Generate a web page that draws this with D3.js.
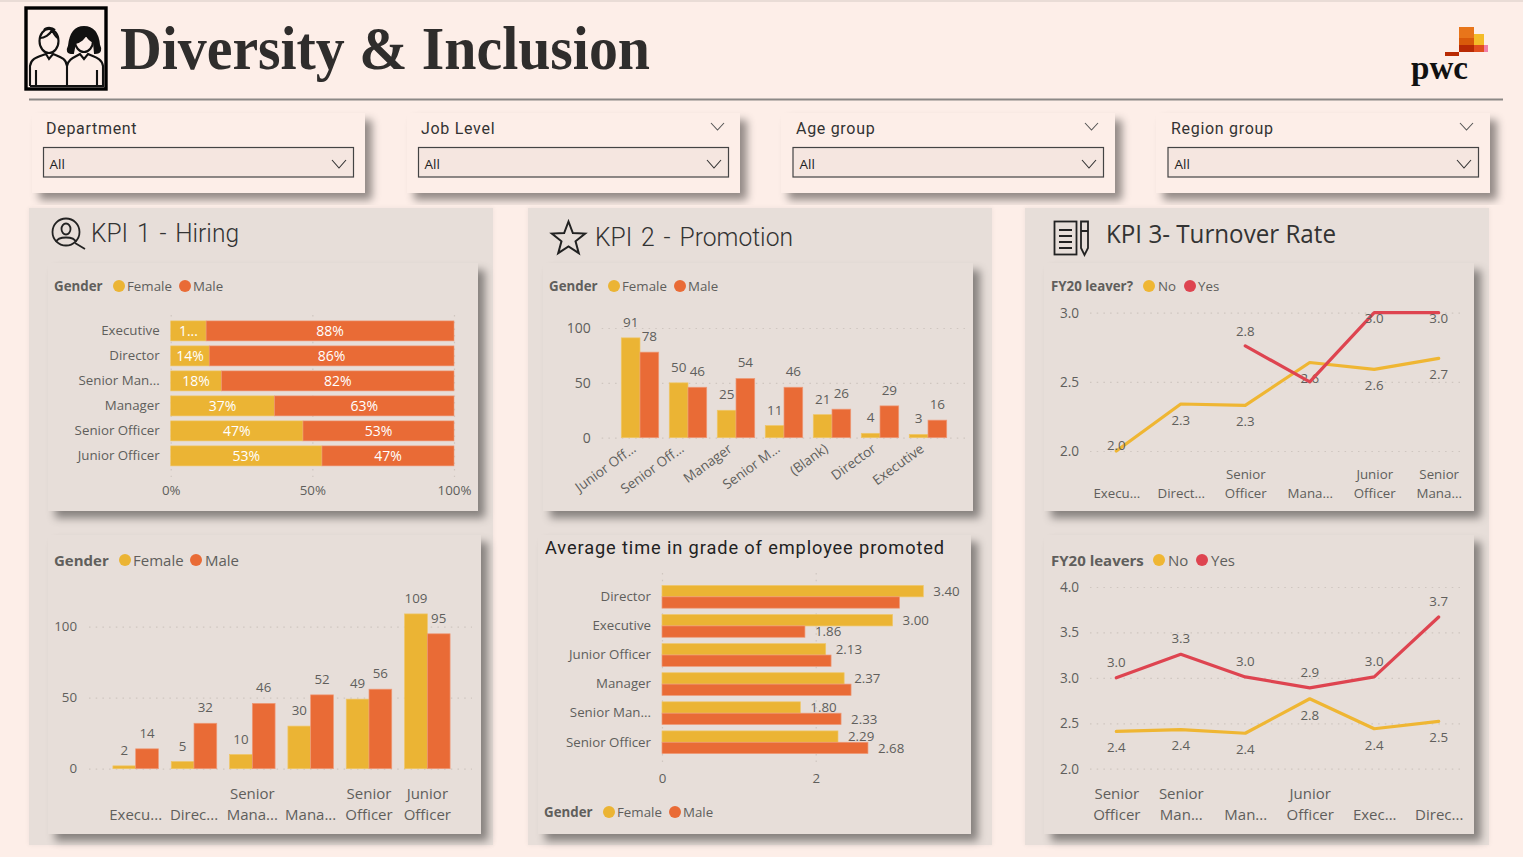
<!DOCTYPE html>
<html><head><meta charset="utf-8">
<script src="https://cdn.jsdelivr.net/npm/d3@7"></script>
<style>
html,body{margin:0;padding:0;background:#FDEEE8;overflow:hidden}
svg{display:block}
text{font-family:"Open Sans","Noto Sans",sans-serif;fill:#605E5C}
.din{font-family:Roboto,sans-serif}
</style></head><body>
<svg id="c" width="1523" height="857"></svg>
<script>
// ---------- data ----------
const slicerNames = ["Department","Job Level","Age group","Region group"];
const slicerValue = "All";

const genderSeries = ["Female","Male"];
const leaverSeries = ["No","Yes"];

const shareLevels = ["Executive","Director","Senior Man...","Manager","Senior Officer","Junior Officer"];
const shareFemale = [12.5,13.6,17.9,36.6,46.7,53.4];
const shareMale   = [87.5,86.4,82.1,63.4,53.3,46.6];
const shareTicks  = [0,50,100];

const hireLevels = ["Execu...","Direc...","Senior\nMana...","Mana...","Senior\nOfficer","Junior\nOfficer"];
const hireFemale = [2,5,10,30,49,109];
const hireMale   = [14,32,46,52,56,95];
const hireTicks  = [0,50,100];

const promoLevels = ["Junior Off...","Senior Off...","Manager","Senior M...","(Blank)","Director","Executive"];
const promoFemale = [91,50,25,11,21,4,3];
const promoMale   = [78,46,54,46,26,29,16];
const promoTicks  = [0,50,100];

const gradeLevels = ["Director","Executive","Junior Officer","Manager","Senior Man...","Senior Officer"];
const gradeFemale = [3.40,3.00,2.13,2.37,1.80,2.29];
const gradeMale   = [3.09,1.86,2.20,2.46,2.33,2.68];
const gradeFemaleLabels = ["3.40","3.00","2.13","2.37","1.80","2.29"];
const gradeMaleLabels   = ["","1.86","","","2.33","2.68"];
const gradeTicks  = [0,2];

const tenureLevels = ["Execu...","Direct...","Senior\nOfficer","Mana...","Junior\nOfficer","Senior\nMana..."];
const tenureNo  = [2.00,2.34,2.33,2.64,2.59,2.67];
const tenureYes = [null,null,2.76,2.50,3.00,3.00];
const tenureYesLabels = [null,null,"2.8",null,"3.0","3.0"];
const tenureTicks = [2,2.5,3];

const leaverLevels = ["Senior\nOfficer","Senior\nMan...","Man...","Junior\nOfficer","Exec...","Direc..."];
const leaverNo  = [2.41,2.43,2.39,2.77,2.44,2.52];
const leaverYes = [3.00,3.26,3.01,2.89,3.01,3.67];
const leaverTicks = [2,2.5,3,3.5,4];

// ---------- style ----------
const FEMALE="#EBB434", MALE="#E96B36", NO="#EFB633", YES="#DE4450";
const INK="#605E5C", GRID="#cfc6c0", PANEL="#E7DED9", PAGE="#FDEEE8";
const svg=d3.select("#c");
const defs=svg.append("defs");
const f=defs.append("filter").attr("id","sh").attr("x","-10%").attr("y","-10%").attr("width","125%").attr("height","125%");
f.append("feDropShadow").attr("dx",7).attr("dy",7).attr("stdDeviation",4).attr("flood-color","#000").attr("flood-opacity",.42);
const f2=defs.append("filter").attr("id","sh2").attr("x","-10%").attr("y","-10%").attr("width","125%").attr("height","125%");
f2.append("feDropShadow").attr("dx",0).attr("dy",0).attr("stdDeviation",2).attr("flood-color","#000").attr("flood-opacity",.06);

svg.append("rect").attr("width",1523).attr("height",857).attr("fill",PAGE);
svg.append("rect").attr("x",0).attr("y",0).attr("width",1523).attr("height",2).attr("fill","#e9dcd6");

function box(x0,y0,x1,y1,fill,filter){
  const r=svg.append("rect").attr("x",x0).attr("y",y0).attr("width",x1-x0).attr("height",y1-y0).attr("fill",fill);
  if(filter) r.attr("filter",`url(#${filter})`);
  return r;
}
function txt(x,y,s,size,opt={}){
  const t=svg.append("text").attr("x",x).attr("y",y).attr("font-size",size).text(s);
  if(opt.cls) t.attr("class",opt.cls);
  if(opt.fill) t.style("fill",opt.fill);
  if(opt.weight) t.attr("font-weight",opt.weight);
  if(opt.anchor) t.attr("text-anchor",opt.anchor);
  if(opt.ls) t.attr("letter-spacing",opt.ls);
  if(opt.ws) t.attr("word-spacing",opt.ws);
  if(opt.family) t.style("font-family",opt.family);
  if(opt.style) t.attr("font-style",opt.style);
  if(opt.len) t.attr("textLength",opt.len).attr("lengthAdjust","spacingAndGlyphs");
  return t;
}
function chevron(x,y,w,h,color){
  svg.append("path").attr("d",d3.line()([[x,y],[x+w/2,y+h],[x+w,y]])).attr("fill","none").attr("stroke",color).attr("stroke-width",1.1);
}
function legend(tx,y,title,size,items){
  txt(tx,y,title,size,{weight:700});
  items.forEach(it=>{
    svg.append("circle").attr("cx",it.cx).attr("cy",y-(size>14?2:1)-4).attr("r",6).attr("fill",it.color);
    txt(it.tx,y,it.label,size);
  });
}
function styleAxis(g,size){
  g.select(".domain").remove();
  g.selectAll("text").attr("font-size",size).style("fill",INK).style("font-family",'"Open Sans","Noto Sans",sans-serif');
  g.selectAll(".tick line").attr("stroke",GRID).attr("stroke-width",1.2).attr("stroke-dasharray","1.5 5.2");
}
function multiline(g,baseline,lh){
  g.selectAll(".tick text").each(function(d){
    const parts=String(d).split("\n"), t=d3.select(this);
    t.text(null).attr("dy",null).attr("y",null);
    parts.forEach((p,i)=>t.append("tspan").attr("x",0).attr("y",baseline-(parts.length-1-i)*lh).text(p));
  });
}

// ---------- header ----------
txt(120,69,"Diversity & Inclusion",61,{weight:700,fill:"#2f2d2c",family:'"Liberation Serif",serif',len:530});
svg.append("line").attr("x1",29).attr("x2",1503).attr("y1",99.5).attr("y2",99.5).attr("stroke","#8c8886").attr("stroke-width",2.2);

// people icon
svg.append("rect").attr("x",26).attr("y",8).attr("width",80).attr("height",81).attr("fill","none").attr("stroke","#000").attr("stroke-width",3.4);
const icon=svg.append("g").attr("fill","none").attr("stroke","#111").attr("stroke-width",2.1);
icon.append("ellipse").attr("cx",49).attr("cy",41).attr("rx",9.5).attr("ry",12);
icon.append("path").attr("d","M40 38 C44 38 50 35 52 30 C54 34 56 37 58 38 M44 30 C46 27 52 27 55 30");
icon.append("path").attr("d","M30 86 L30 66 C31 58 38 57 46 54 L49 59 L53 54 C60 57 66 58 67 66 L67 86 M36 86 L36 70 M30 86 L104 86");
icon.append("ellipse").attr("cx",84).attr("cy",41).attr("rx",9).attr("ry",11);
icon.append("path").attr("fill","#111").attr("d","M84 27 C74 27 70 36 69 46 C67 50 67 53 73 53 L75 43 C80 42 85 38 86 34 C88 38 91 41 94 42 L95 53 C101 53 101 49 99 45 C98 35 94 27 84 27Z");
icon.append("path").attr("d","M67 66 C68 59 75 57 80 54 L84 59 L88 54 C94 57 102 58 103 66 L103 86 M97 86 L97 70");

// pwc logo
[[1459,27,15,18,"#E8751A"],[1474,34,10,11,"#F4BC28"],[1459,45,15,7,"#B82A04"],[1474,45,10,7,"#E14E1E"],[1484,45,4,7,"#F07FA8"],[1445,52,14,4,"#B82A04"],[1459,38,15,7,"#D95A0A"]]
 .forEach(d=>box(d[0],d[1],d[0]+d[2],d[1]+d[3],d[4]));
txt(1411,79,"pwc",34,{weight:700,fill:"#111",family:'"Liberation Serif",serif',len:57});

// slicers
const slicerX=[32,407,781,1156], slicerW=[333,333,334,334], slicerText=[46,421,796,1171];
slicerNames.forEach((n,i)=>{
  const x=slicerX[i],w=slicerW[i];
  box(x,113,x+w,193,PAGE,"sh");
  txt(slicerText[i],134,n,16,{cls:"din",fill:"#333",ls:.7});
  box(x+11.5+(i>1?.5:0),147.5,x+w-11.5,177,"#F5E6E0").attr("stroke","#444").attr("stroke-width",1.2);
  txt(slicerText[i]+3.5,169,slicerValue,13.5,{fill:"#222"});
  chevron(x+w-33,160,14,8,"#333");
  if(i>0) chevron(x+304,123,13,7,"#555");
});

// KPI columns
[[29,493],[528,992],[1025,1489]].forEach(p=>box(p[0],208,p[1],845,PANEL,"sh2"));
txt(91,242,"KPI 1 - Hiring",26,{cls:"din",fill:"#333",weight:300,ws:3,len:148});
txt(595,246,"KPI 2 - Promotion",26,{cls:"din",fill:"#333",weight:300,ws:3,len:198});
txt(1106,243,"KPI 3- Turnover Rate",25,{fill:"#333",len:230});

// KPI icons
const ic=svg.append("g").attr("fill","none").attr("stroke","#222").attr("stroke-width",1.8);
ic.append("circle").attr("cx",66).attr("cy",232).attr("r",13.5);
ic.append("ellipse").attr("cx",66).attr("cy",229).attr("rx",4.5).attr("ry",5.5);
ic.append("path").attr("d","M56 242 C58 236 74 236 76 242 M75 243 L85 249");
ic.append("path").attr("stroke-width",2).attr("d",()=>{
  const pts=d3.range(10).map(i=>{const a=-Math.PI/2+i*Math.PI/5,r=i%2?7.4:17.5;return [568.5+r*Math.cos(a),239+r*Math.sin(a)];});
  return d3.line()(pts)+"Z";
});
ic.append("rect").attr("x",1054.5).attr("y",221.5).attr("width",22).attr("height",33);
ic.append("path").attr("d","M1059 230H1072 M1059 236H1072 M1059 242H1072 M1059 248H1072 M1081 221.5H1088V248L1084.5 255L1081 248Z M1081 231H1088");

// cards
const cards={A:[48,263,478,511],B:[48,535,481,834],C:[543,263,973,511],D:[538,535,971,834],E:[1044,263,1474,511],F:[1044,535,1474,834]};
Object.values(cards).forEach(c=>box(c[0],c[1],c[2],c[3],PANEL,"sh"));

const gender=(pos)=>genderSeries.map((s,i)=>({label:s,color:i?MALE:FEMALE,cx:pos[i*2],tx:pos[i*2+1]}));
const leave=(pos)=>leaverSeries.map((s,i)=>({label:s,color:i?YES:NO,cx:pos[i*2],tx:pos[i*2+1]}));

// ---------- KPI1 stacked share ----------
(function(){
  legend(54,291,"Gender",13.3,gender([119,127,185,193]));
  const x=d3.scaleLinear().domain([0,100]).range([170.7,454]);
  const y=d3.scaleBand().domain(shareLevels).range([318.4,468.4]).paddingInner(.2).paddingOuter(.1);
  const g=svg.append("g");
  const ax=g.append("g").attr("transform","translate(0,315)").call(d3.axisBottom(x).tickValues(shareTicks).tickFormat(d=>d+"%").tickSize(162).tickPadding(9));
  styleAxis(ax,13.3);
  const ay=g.append("g").attr("transform","translate(170.7,0)").call(d3.axisLeft(y).tickSize(0).tickPadding(11));
  styleAxis(ay,13.3);
  const rows=shareLevels.map((l,i)=>({l,f:shareFemale[i],m:shareMale[i]}));
  g.selectAll(".f").data(rows).join("rect").attr("x",x(0)).attr("y",d=>y(d.l)).attr("height",y.bandwidth()).attr("width",d=>x(d.f)-x(0)).attr("fill",FEMALE).attr("stroke","#EFC667").attr("stroke-width",.6);
  g.selectAll(".m").data(rows).join("rect").attr("x",d=>x(d.f)).attr("y",d=>y(d.l)).attr("height",y.bandwidth()).attr("width",d=>x(d.f+d.m)-x(d.f)).attr("fill",MALE).attr("stroke","#EE9A78").attr("stroke-width",.6);
  const lab=(cx,v,d,w)=>g.append("text").attr("x",cx).attr("y",y(d.l)+y.bandwidth()/2).attr("dy",".36em").attr("text-anchor","middle").attr("font-size",14).style("fill","#fff").text(w<38?String(Math.round(v))[0]+"...":Math.round(v)+"%");
  rows.forEach(d=>{
    lab((x(0)+x(d.f))/2,d.f,d,x(d.f)-x(0));
    lab((x(d.f)+x(d.f+d.m))/2,d.m,d,x(d.f+d.m)-x(d.f));
  });
})();

// ---------- grouped columns helper ----------
function columns(o){
  const y=d3.scaleLinear().domain([0,100]).range([o.y0,o.y100]);
  const x=d3.scaleBand().domain(o.levels).range(o.band).paddingInner(o.pad).paddingOuter(o.pad/2);
  const x1=d3.scaleBand().domain(genderSeries).range([0,x.bandwidth()]);
  const g=svg.append("g");
  const ay=g.append("g").attr("transform",`translate(${o.gx0},0)`).call(d3.axisLeft(y).tickValues(o.ticks).tickSize(-(o.gx1-o.gx0)).tickPadding(o.tp));
  styleAxis(ay,o.yfs);
  const ax=g.append("g").attr("transform",`translate(0,${o.y0})`).call(d3.axisBottom(x).tickSize(0).tickPadding(5));
  styleAxis(ax,o.fs);
  if(o.rotate){
    ax.selectAll(".tick text").attr("text-anchor","end").attr("dy",0).attr("y",0)
      .attr("transform",`translate(${o.rx},${o.ry}) rotate(${o.rotate})`);
  } else multiline(ax,o.base-o.y0,o.lh);
  genderSeries.forEach((s,si)=>{
    const vals=si?o.male:o.female;
    const rows=o.levels.map((l,i)=>({l,v:vals[i]}));
    g.selectAll(".s"+si).data(rows).join("rect").attr("x",d=>x(d.l)+x1(s)).attr("width",x1.bandwidth())
      .attr("y",d=>y(d.v)).attr("height",d=>y(0)-y(d.v)).attr("fill",si?MALE:FEMALE).attr("stroke",si?"#EE9A78":"#EFC667").attr("stroke-width",.7);
    g.selectAll(".l"+si).data(rows).join("text").attr("x",d=>x(d.l)+x1(s)+x1.bandwidth()/2).attr("y",d=>y(d.v)-o.lg)
      .attr("text-anchor","middle").attr("font-size",o.lfs).style("fill",INK).text(d=>d.v);
  });
}
columns({levels:hireLevels,female:hireFemale,male:hireMale,ticks:hireTicks,y0:768.7,y100:626.7,band:[106.5,456.5],pad:.22,gx0:89,gx1:472,tp:12,fs:15,yfs:13.3,lfs:13.3,lg:11,base:820,lh:21});
legend(54,566,"Gender",15,gender([125,133,196,205]));

columns({levels:promoLevels,female:promoFemale,male:promoMale,ticks:promoTicks,y0:437.7,y100:328,band:[616,952],pad:.22,gx0:601.7,gx1:967,tp:11,fs:13.5,yfs:14,lfs:13.5,lg:11,rotate:-36,rx:-3,ry:13});
legend(549,291,"Gender",13.3,gender([614,622,680,688]));

// ---------- grade horizontal ----------
(function(){
  txt(545,554,"Average time in grade of employee promoted",18.5,{cls:"din",fill:"#222",ls:.9,len:400});
  legend(544,817,"Gender",13.3,gender([609,617,675,683]));
  const x=d3.scaleLinear().domain([0,2]).range([662,815.7]);
  const y=d3.scaleBand().domain(gradeLevels).range([582.3,756.8]).paddingInner(.22).paddingOuter(.11);
  const y1=d3.scaleBand().domain(genderSeries).range([0,y.bandwidth()]);
  const g=svg.append("g");
  const ax=g.append("g").attr("transform","translate(0,573)").call(d3.axisBottom(x).tickValues(gradeTicks).tickFormat(d3.format("d")).tickSize(190).tickPadding(11));
  styleAxis(ax,13.3);
  const ay=g.append("g").attr("transform","translate(662,0)").call(d3.axisLeft(y).tickSize(0).tickPadding(11));
  styleAxis(ay,13.3);
  genderSeries.forEach((s,si)=>{
    const vals=si?gradeMale:gradeFemale, labs=si?gradeMaleLabels:gradeFemaleLabels;
    const rows=gradeLevels.map((l,i)=>({l,v:vals[i],t:labs[i]}));
    g.selectAll(".b"+si).data(rows).join("rect").attr("x",x(0)).attr("y",d=>y(d.l)+y1(s)).attr("height",y1.bandwidth()).attr("width",d=>x(d.v)-x(0))
      .attr("fill",si?MALE:FEMALE).attr("stroke",si?"#EE9A78":"#EFC667").attr("stroke-width",.7);
    g.selectAll(".t"+si).data(rows).join("text").attr("x",d=>x(d.v)+10).attr("y",d=>y(d.l)+y1(s)+y1.bandwidth()/2).attr("dy",".36em")
      .attr("font-size",13.3).style("fill",INK).text(d=>d.t);
  });
})();

// ---------- line helper ----------
function lines(o){
  const x=d3.scalePoint().domain(o.levels).range(o.xr);
  const y=d3.scaleLinear().domain(o.dom).range(o.yr);
  const g=svg.append("g");
  const ay=g.append("g").attr("transform","translate(1090,0)").call(d3.axisLeft(y).tickValues(o.ticks).tickFormat(d3.format(".1f")).tickSize(-372).tickPadding(11));
  styleAxis(ay,13.6);
  const ax=g.append("g").attr("transform",`translate(0,${o.yr[0]})`).call(d3.axisBottom(x).tickSize(0).tickPadding(5));
  styleAxis(ax,o.fs);
  multiline(ax,o.base-o.yr[0],o.lh);
  const clamp=v=>Math.max(o.yr[1]+6,Math.min(o.yr[0]-6,v));
  [[o.no,NO,o.noLab,o.noOff],[o.yes,YES,o.yesLab,o.yesOff]].forEach(([vals,color,labs,off])=>{
    const rows=o.levels.map((l,i)=>({l,v:vals[i],t:labs?labs[i]:(vals[i]==null?null:d3.format(".1f")(vals[i]))}));
    const ln=d3.line().defined(d=>d.v!=null).x(d=>x(d.l)).y(d=>y(d.v));
    g.append("path").datum(rows).attr("d",ln).attr("fill","none").attr("stroke",color).attr("stroke-width",3.2).attr("stroke-linecap","round").attr("stroke-linejoin","round");
    g.selectAll(null).data(rows.filter(d=>d.t!=null)).join("text").attr("x",d=>x(d.l)).attr("y",d=>clamp(y(d.v)+off)).attr("dy",".36em")
      .attr("text-anchor","middle").attr("font-size",13.3).style("fill",INK).text(d=>d.t);
  });
}
lines({levels:tenureLevels,no:tenureNo,yes:tenureYes,yesLab:tenureYesLabels,noOff:16,yesOff:-15,xr:[1116.3,1438.7],dom:[2,3],yr:[451,312.7],ticks:tenureTicks,fs:13.3,base:498,lh:19});
legend(1051,291,"FY20 leaver?",13.3,leave([1149,1158,1190,1198]));
lines({levels:leaverLevels,no:leaverNo,yes:leaverYes,noOff:16,yesOff:-16,xr:[1116.3,1438.7],dom:[2,4],yr:[768.7,587],ticks:leaverTicks,fs:15,base:820,lh:21});
legend(1051,566,"FY20 leavers",15,leave([1159,1168,1202,1211]));
</script>
</body></html>
